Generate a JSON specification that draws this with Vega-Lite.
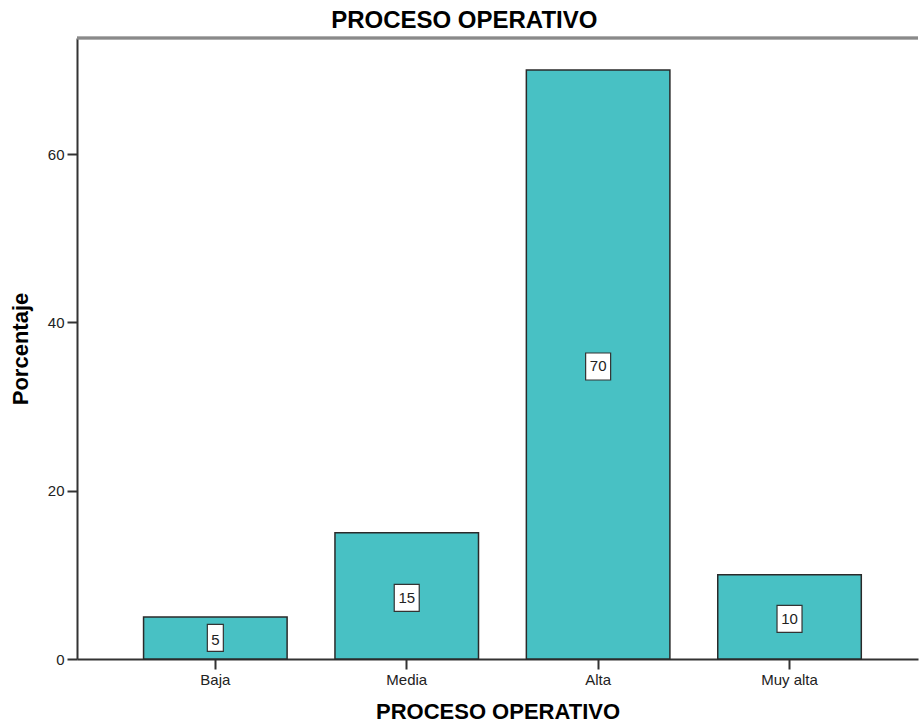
{
  "$schema": "https://vega.github.io/schema/vega-lite/v6.json",
  "width": 841,
  "height": 621,
  "autosize": {"type": "none"},
  "padding": {"left": 77, "top": 38, "right": 1, "bottom": 67},
  "background": "white",
  "title": {
    "text": "PROCESO OPERATIVO",
    "font": "Liberation Sans",
    "fontSize": 24,
    "fontWeight": "bold",
    "color": "#000000",
    "anchor": "middle",
    "frame": "bounds",
    "offset": 4
  },
  "config": {
    "view": {"stroke": null},
    "axis": {
      "labelFont": "Liberation Sans",
      "titleFont": "Liberation Sans",
      "labelFontSize": 15,
      "titleFontSize": 22,
      "titleFontWeight": "bold",
      "labelColor": "#222222",
      "titleColor": "#000000",
      "domainColor": "#333333",
      "domainWidth": 2,
      "tickColor": "#333333",
      "tickWidth": 2,
      "tickSize": 10,
      "grid": false
    }
  },
  "data": {
    "values": [
      {"categoria": "Baja", "porcentaje": 5},
      {"categoria": "Media", "porcentaje": 15},
      {"categoria": "Alta", "porcentaje": 70},
      {"categoria": "Muy alta", "porcentaje": 10}
    ]
  },
  "transform": [{"calculate": "datum.porcentaje / 2", "as": "mitad"}],
  "encoding": {
    "x": {
      "field": "categoria",
      "type": "nominal",
      "sort": ["Baja", "Media", "Alta", "Muy alta"],
      "scale": {"paddingInner": 0.25, "paddingOuter": 0.322, "align": 0.54},
      "axis": {"title": "PROCESO OPERATIVO", "labelAngle": 0, "labelPadding": 3, "titlePadding": 14}
    }
  },
  "layer": [
    {
      "mark": {"type": "bar", "fill": "#48C1C4", "stroke": "#2a2a2a", "strokeWidth": 1.5},
      "encoding": {
        "y": {
          "field": "porcentaje",
          "type": "quantitative",
          "scale": {"domain": [0, 73.8], "nice": false},
          "axis": {"title": "Porcentaje", "values": [0, 20, 40, 60], "labelPadding": 3, "titlePadding": 15}
        }
      }
    },
    {
      "mark": {"type": "rule", "stroke": "#8a8a8a", "strokeWidth": 2.5},
      "encoding": {"y": {"datum": 73.8, "type": "quantitative"}, "x": {"value": 0}, "x2": {"value": 841}}
    },
    {
      "transform": [{"filter": "datum.porcentaje < 10"}],
      "mark": {"type": "point", "shape": "M-0.593,-1H0.593V1H-0.593Z", "size": 729, "filled": true, "fill": "white", "stroke": "#333333", "strokeWidth": 1.2, "opacity": 1, "dy": 2},
      "encoding": {"y": {"field": "mitad", "type": "quantitative"}}
    },
    {
      "transform": [{"filter": "datum.porcentaje >= 10"}],
      "mark": {"type": "point", "shape": "M-0.926,-1H0.926V1H-0.926Z", "size": 729, "filled": true, "fill": "white", "stroke": "#333333", "strokeWidth": 1.2, "opacity": 1},
      "encoding": {"y": {"field": "mitad", "type": "quantitative"}, "yOffset": {"value": 2}}
    },
    {
      "mark": {"type": "text", "font": "Liberation Sans", "fontSize": 15, "color": "#222222", "baseline": "middle", "align": "center", "dy": 2},
      "encoding": {"y": {"field": "mitad", "type": "quantitative"}, "text": {"field": "porcentaje", "type": "quantitative"}}
    }
  ]
}
